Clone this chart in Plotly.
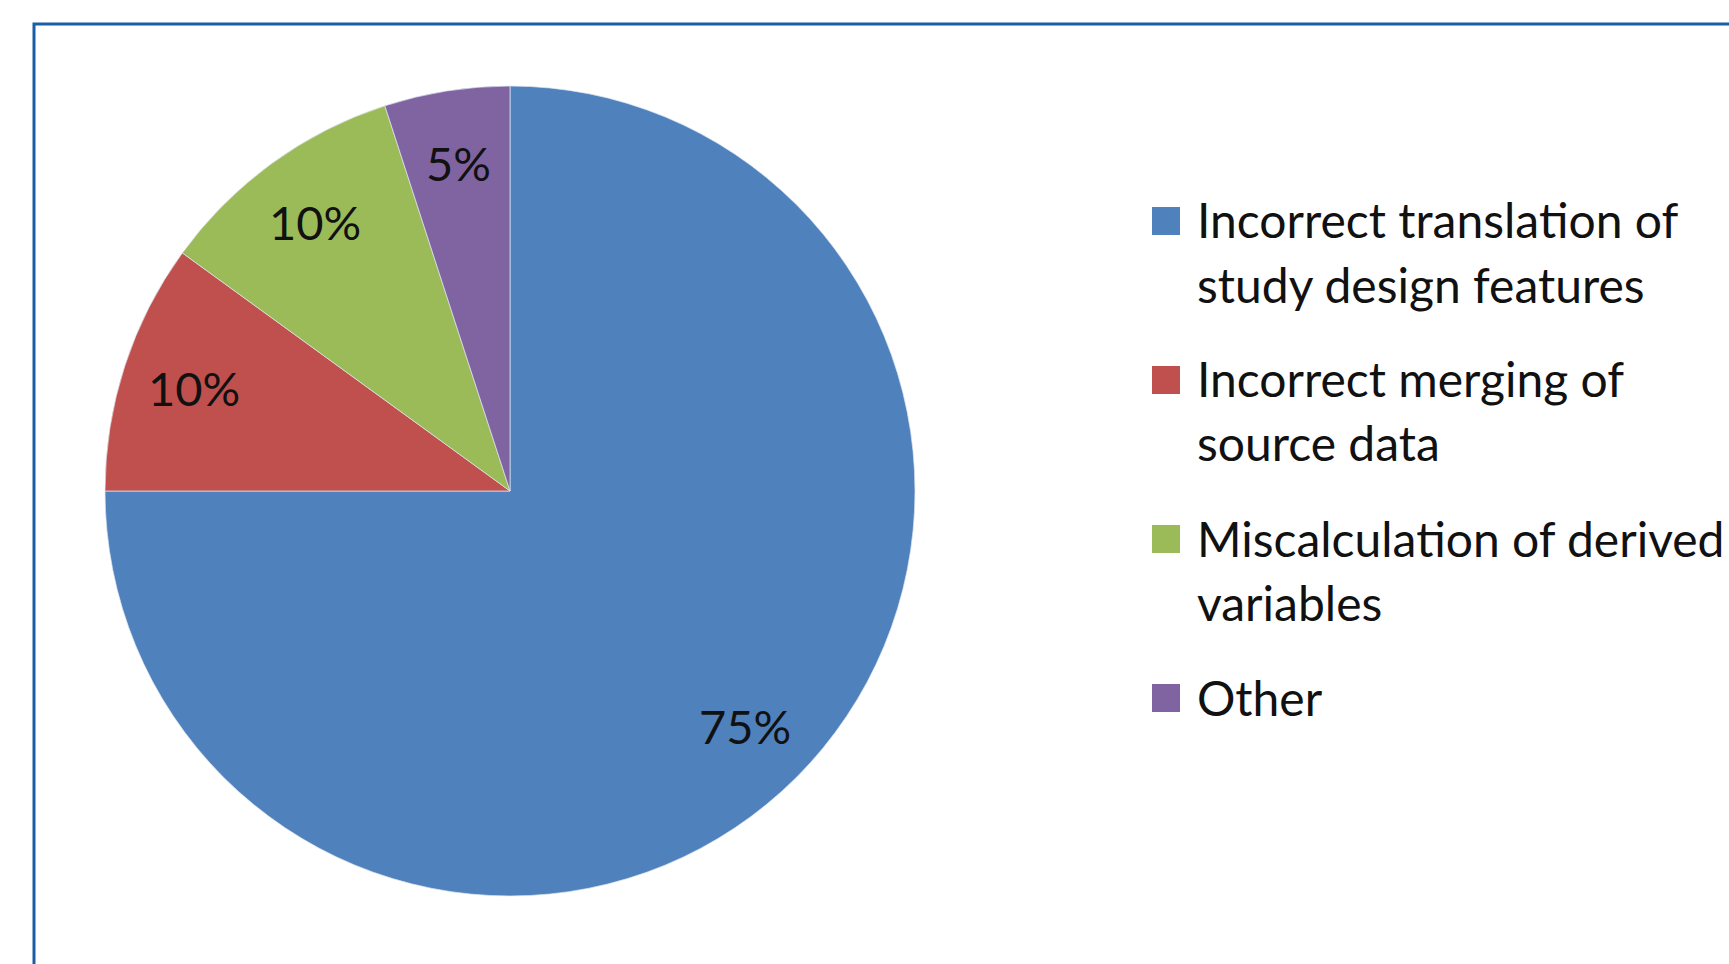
import math
import plotly.graph_objects as go

W, H = 1729, 964

categories = [
    "Incorrect translation of<br>study design features",
    "Incorrect merging of<br>source data",
    "Miscalculation of derived<br>variables",
    "Other",
]
values = [75, 10, 10, 5]
colors = ["#4F81BD", "#C0504D", "#9BBB59", "#8064A2"]

FONT = "Lato"

def px(x):
    return x / W

def py(y):
    return 1 - y / H

# pie geometry (pixels)
cx, cy, R = 510, 491, 405

fig = go.Figure()
fig.add_trace(go.Pie(
    labels=[c.replace("<br>", " ") for c in categories],
    values=values,
    marker=dict(colors=colors, line=dict(color="#dfe6f0", width=0.7)),
    sort=False,
    direction="clockwise",
    rotation=0,
    textinfo="none",
    showlegend=False,
    hoverinfo="label+percent",
    domain=dict(x=[px(cx - R), px(cx + R)], y=[py(cy + R), py(cy - R)]),
))

shapes = [dict(type="rect", xref="paper", yref="paper",
               x0=px(34), x1=px(W + 20), y0=py(24), y1=py(H + 20),
               line=dict(color="#1a5ea6", width=3), fillcolor="rgba(0,0,0,0)")]
annotations = []

# percentage labels placed inside the slice end (Excel "inside end" style)
total = sum(values)
cum = 0.0
for v in values:
    mid = (cum + v / 2) / total * 2 * math.pi  # clockwise from 12 o'clock
    cum += v
    r = 0.82 * R
    lx = cx + r * math.sin(mid)
    ly = cy - r * math.cos(mid)
    annotations.append(dict(xref="paper", yref="paper", x=px(lx), y=py(ly),
                            xanchor="center", yanchor="middle",
                            text=f"{round(v / total * 100)}%", showarrow=False,
                            font=dict(family=FONT, size=47, color="#111111")))

leg_x_marker = 1152
leg_x_text = 1195
leg_top = 221
item_gap = 159
line_gap = 64
msize = 28

for i, (cat, col) in enumerate(zip(categories, colors)):
    ymid = leg_top + i * item_gap
    shapes.append(dict(type="rect", xref="paper", yref="paper",
                       x0=px(leg_x_marker), x1=px(leg_x_marker + msize),
                       y0=py(ymid - msize / 2), y1=py(ymid + msize / 2),
                       fillcolor=col, line=dict(color=col, width=0)))
    for j, line in enumerate(cat.split("<br>")):
        annotations.append(dict(xref="paper", yref="paper",
                                x=px(leg_x_text), y=py(ymid + j * line_gap - 1),
                                xanchor="left", yanchor="middle",
                                text=line, showarrow=False,
                                font=dict(family=FONT, size=48, color="#111111")))

fig.update_layout(
    width=W, height=H,
    margin=dict(l=0, r=0, t=0, b=0),
    paper_bgcolor="white", plot_bgcolor="white",
    shapes=shapes, annotations=annotations,
)

fig.write_html("out.html")
